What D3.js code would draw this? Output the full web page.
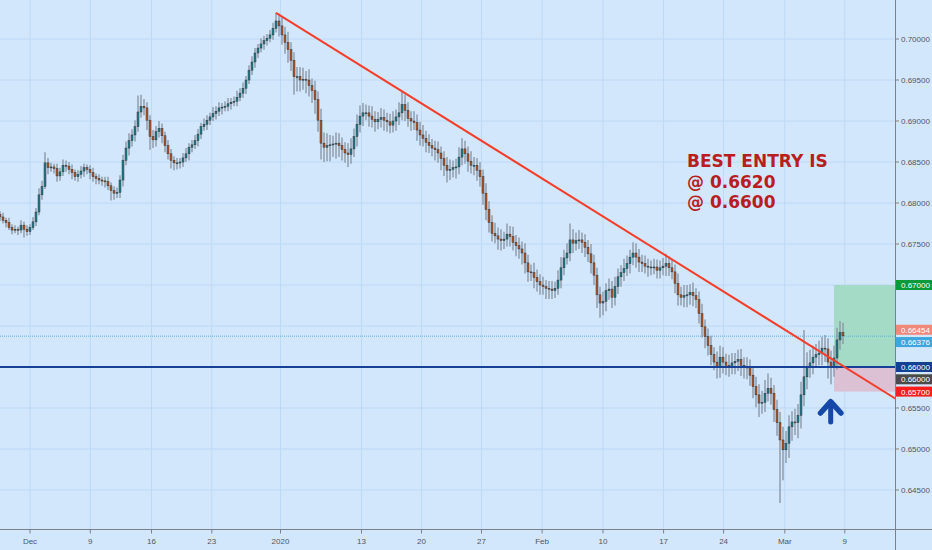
<!DOCTYPE html>
<html>
<head>
<meta charset="utf-8">
<script src="https://cdn.jsdelivr.net/npm/d3@7"></script>
<style>
  html, body { margin: 0; padding: 0; background: #d3e7fc; }
  svg { display: block; }
  .axis-text { font-family: "Liberation Sans", Arial, sans-serif; font-size: 8px; fill: #4f5661; }
  .tag-text { font-family: "Liberation Sans", Arial, sans-serif; font-size: 8px; fill: #ffffff; }
  .note { font-family: "DejaVu Sans", Verdana, sans-serif; font-weight: bold; font-size: 17px; fill: #b81d1f; }
</style>
</head>
<body>
<svg id="chart" width="932" height="550"></svg>
<script>
// closes in pips (6783 -> 0.6783), one per candle
const closes = [
  6783,6779,6776,6770,6767,6768,6767,6773,6768,6765,
  6770,6777,6789,6810,6820,6849,6843,6844,6842,6833,
  6838,6846,6845,6841,6837,6832,6835,6839,6843,6841,
  6837,6832,6830,6828,6827,6826,6821,6815,6812,6813,
  6828,6852,6867,6876,6883,6893,6911,6918,6916,6901,
  6881,6877,6887,6891,6882,6870,6860,6852,6849,6849,
  6850,6855,6860,6868,6871,6876,6884,6893,6896,6901,
  6905,6909,6912,6916,6917,6918,6921,6923,6924,6929,
  6934,6940,6950,6962,6972,6983,6989,6994,6998,7001,
  7005,7013,7022,7016,7005,6996,6987,6974,6954,6954,
  6950,6951,6950,6943,6937,6926,6901,6873,6868,6870,
  6871,6872,6873,6870,6865,6861,6859,6866,6881,6896,
  6906,6910,6910,6906,6902,6899,6902,6904,6901,6899,
  6895,6900,6905,6910,6920,6913,6903,6900,6898,6889,
  6883,6879,6874,6870,6867,6865,6861,6854,6846,6840,
  6841,6843,6844,6856,6866,6860,6851,6846,6846,6840,
  6832,6812,6792,6776,6763,6760,6756,6754,6756,6762,
  6759,6752,6748,6744,6739,6727,6716,6715,6709,6704,
  6700,6698,6696,6695,6693,6696,6706,6721,6733,6739,
  6755,6751,6754,6755,6752,6746,6738,6727,6712,6688,
  6678,6680,6693,6695,6685,6698,6710,6715,6720,6726,
  6734,6739,6734,6728,6726,6723,6722,6722,6722,6718,
  6721,6723,6726,6721,6716,6702,6688,6685,6687,6688,
  6691,6687,6682,6665,6649,6637,6626,6615,6606,6600,
  6612,6606,6602,6601,6605,6607,6609,6602,6600,6600,
  6590,6576,6566,6556,6557,6568,6574,6568,6548,6532,
  6511,6499,6507,6527,6533,6532,6541,6566,6588,6600,
  6605,6612,6615,6617,6623,6622,6606,6601,6611,6633,
  6642,6638
];
const firstOpen = 6786;

// wick length above / below the body, in pips
const upWick = [
  4,5,3,6,4,5,3,6,4,5, 4,6,5,8,7,13,6,5,4,6,
  5,7,6,5,6,4,5,6,5,4, 5,6,4,5,4,5,6,4,5,6,
  6,7,8,9,7,8,20,14,9,7, 6,8,7,9,6,5,7,6,5,6,
  5,6,7,5,6,7,6,5,7,6, 5,8,6,7,5,6,7,5,6,8,
  6,7,5,6,7,6,5,7,6,5, 6,7,10,9,12,10,13,9,10,12,
  12,14,10,13,9,12,10,14,13,15, 12,10,13,12,10,9,12,13,10,12,
  13,12,10,9,12,10,9,12,10,9, 10,12,9,13,16,12,10,9,12,10,
  10,12,9,10,8,9,10,8,9,10, 12,9,10,12,13,10,9,12,10,9,
  10,9,12,10,9,13,10,12,9,13, 10,12,9,10,9,12,10,9,12,10,
  9,10,8,9,10,8,12,13,10,12, 20,13,10,12,9,10,9,12,10,9,
  10,12,9,13,10,12,10,9,12,10, 9,13,12,10,9,10,9,8,10,9,
  9,10,12,9,10,9,12,10,13,12, 10,12,9,10,12,9,10,12,9,13,
  14,12,10,13,12,10,12,13,10,12, 9,10,12,13,14,16,18,13,10,12,
  13,16,15,14,13,16,14,16,57,18, 16,14,13,15,14,16,13,14,15,15,
  14,12
];
const dnWick = [
  5,4,6,3,5,4,6,4,10,5, 4,3,5,4,6,3,8,5,6,7,
  6,5,7,6,8,5,6,5,7,6, 8,6,7,5,6,7,5,12,8,6,
  7,8,6,9,7,8,6,7,9,12, 16,10,8,7,9,8,7,10,9,8,
  7,6,5,8,6,5,7,6,5,7, 6,5,7,6,8,5,6,7,5,6,
  5,6,7,5,6,7,6,5,7,6, 5,6,5,13,12,14,16,13,22,18,
  14,12,16,13,15,17,14,20,18,17, 19,15,18,14,13,12,15,11,10,12,
  10,12,9,13,10,12,9,10,13,12, 10,9,12,10,9,13,10,12,9,13,
  13,10,12,9,10,13,12,14,13,15, 12,10,13,9,10,12,13,10,12,13,
  12,14,13,12,10,9,13,12,10,9, 12,10,13,12,14,13,12,10,13,12,
  12,10,13,12,10,9,8,10,9,8, 10,12,9,10,13,12,10,13,12,16,
  18,15,12,11,13,10,9,12,10,9, 12,10,13,12,10,9,12,10,9,10,
  10,9,12,10,9,12,13,10,12,14, 12,13,10,12,13,14,12,13,10,14,
  13,14,12,13,10,14,12,13,14,15, 13,14,15,17,13,12,10,14,15,16,
  77,37,16,18,17,15,19,16,14,15, 13,14,12,13,15,16,20,22,13,14,
  12,10
];

const dateLabels = ["Dec", "9", "16", "23", "2020", "13", "20", "27", "Feb", "10", "17", "24", "Mar", "9"];
const dateIndex = [10, 30.1, 50.5, 70.6, 93.5, 120.5, 140.5, 160.5, 180.7, 201, 221.2, 241.2, 261.6, 281.6];
const priceTicks = [0.700, 0.695, 0.690, 0.685, 0.680, 0.675, 0.670, 0.665, 0.660, 0.655, 0.650, 0.645];

const trendLine = [[92, 0.7032], [300, 0.6558]];
const supportLevel = 0.66;
const lastPrice = 0.66376;
const positionStart = 278;
const positionLevels = { target: 0.670, entry: 0.660, stop: 0.657 };

const noteLines = ["BEST ENTRY IS", "@ 0.6620", "@ 0.6600"];
const noteAt = [229, 0.68439];
const arrowAt = { i: 276.9, top: 0.65577, wing: 0.65439, bottom: 0.65329, half: 3.4 };

const priceTags = [
  { value: 0.67000, color: "#0a9a3c" },
  { value: 0.66454, color: "#f0897a" },
  { value: 0.66376, color: "#3ea5de" },
  { value: 0.66000, color: "#153f94" },
  { value: 0.66000, color: "#4a4a4a" },
  { value: 0.65700, color: "#ff1d1d" }
];

const width = 932, height = 550;
const plotW = 895, plotH = 529.5;

const svg = d3.select("#chart");
const x = d3.scaleLinear().domain([0, plotW / 3]).range([0, plotW]);
const y = d3.scaleLinear().domain([0.64018, 0.70476]).range([plotH, 0]);

svg.append("rect")
  .attr("width", width)
  .attr("height", height)
  .attr("fill", "#d3e7fc");

svg.append("defs").append("clipPath")
  .attr("id", "plot-clip")
  .append("rect")
  .attr("width", plotW)
  .attr("height", plotH);

const plot = svg.append("g").attr("clip-path", "url(#plot-clip)");

// grid
plot.selectAll("line.hgrid")
  .data(priceTicks)
  .join("line")
  .attr("class", "hgrid")
  .attr("x1", 0).attr("x2", plotW)
  .attr("y1", d => y(d)).attr("y2", d => y(d))
  .attr("stroke", "#bcd9f6")
  .attr("stroke-width", 1);

plot.selectAll("line.vgrid")
  .data(dateIndex)
  .join("line")
  .attr("class", "vgrid")
  .attr("x1", d => x(d)).attr("x2", d => x(d))
  .attr("y1", 0).attr("y2", plotH)
  .attr("stroke", "#bcd9f6")
  .attr("stroke-width", 1);

// long position box
plot.append("rect")
  .attr("x", x(positionStart))
  .attr("y", y(positionLevels.target))
  .attr("width", plotW - x(positionStart))
  .attr("height", y(positionLevels.entry) - y(positionLevels.target))
  .attr("fill", "#a4dbc6");

plot.append("rect")
  .attr("x", x(positionStart))
  .attr("y", y(positionLevels.entry))
  .attr("width", plotW - x(positionStart))
  .attr("height", y(positionLevels.stop) - y(positionLevels.entry))
  .attr("fill", "#dcc0d3");

// last price line
plot.append("line")
  .attr("x1", 0).attr("x2", plotW)
  .attr("y1", y(lastPrice)).attr("y2", y(lastPrice))
  .attr("stroke", "#5aaee6")
  .attr("stroke-width", 1)
  .attr("stroke-dasharray", "1,1");

// candles
const candles = closes.map((c, i) => {
  const o = i === 0 ? firstOpen : closes[i - 1];
  return {
    i: i,
    open: o / 1e4,
    close: c / 1e4,
    high: (Math.max(o, c) + upWick[i]) / 1e4,
    low: (Math.min(o, c) - dnWick[i]) / 1e4
  };
});

const candle = plot.selectAll("g.candle")
  .data(candles)
  .join("g")
  .attr("class", "candle");

candle.append("line")
  .attr("x1", d => x(d.i)).attr("x2", d => x(d.i))
  .attr("y1", d => y(d.high)).attr("y2", d => y(d.low))
  .attr("stroke", "#8896a4")
  .attr("stroke-opacity", 0.9)
  .attr("stroke-width", 1.5);

candle.append("rect")
  .attr("x", d => x(d.i) - 1)
  .attr("width", 2)
  .attr("y", d => y(Math.max(d.open, d.close)))
  .attr("height", d => Math.max(1, Math.abs(y(d.open) - y(d.close))))
  .attr("fill", d => d.close >= d.open ? "#23808f" : "#b2592c")
  .attr("stroke", "#2b2b2b")
  .attr("stroke-width", 0.45);

// support line
plot.append("line")
  .attr("x1", 0).attr("x2", plotW)
  .attr("y1", y(supportLevel)).attr("y2", y(supportLevel))
  .attr("stroke", "#163f96")
  .attr("stroke-width", 2);

// trend line
plot.append("line")
  .attr("x1", x(trendLine[0][0])).attr("y1", y(trendLine[0][1]))
  .attr("x2", x(trendLine[1][0])).attr("y2", y(trendLine[1][1]))
  .attr("stroke", "#f43e2c")
  .attr("stroke-width", 2);

// arrow
const arrow = plot.append("g")
  .attr("stroke", "#1548a8")
  .attr("fill", "none")
  .attr("stroke-linecap", "round")
  .attr("stroke-linejoin", "round");

arrow.append("line")
  .attr("x1", x(arrowAt.i)).attr("x2", x(arrowAt.i))
  .attr("y1", y(arrowAt.top) + 2).attr("y2", y(arrowAt.bottom))
  .attr("stroke-width", 5);

arrow.append("path")
  .attr("d", d3.line()([
    [x(arrowAt.i - arrowAt.half), y(arrowAt.wing)],
    [x(arrowAt.i), y(arrowAt.top)],
    [x(arrowAt.i + arrowAt.half), y(arrowAt.wing)]
  ]))
  .attr("stroke-width", 5.5);

// note
svg.append("text")
  .attr("class", "note")
  .attr("x", x(noteAt[0]))
  .attr("y", y(noteAt[1]))
  .selectAll("tspan")
  .data(noteLines)
  .join("tspan")
  .attr("x", x(noteAt[0]))
  .attr("dy", (d, k) => k === 0 ? 0 : 20.5)
  .text(d => d);

// axes
svg.append("line")
  .attr("x1", 0).attr("x2", width)
  .attr("y1", plotH).attr("y2", plotH)
  .attr("stroke", "#7c828b")
  .attr("stroke-width", 1);

svg.append("line")
  .attr("x1", plotW + 0.5).attr("x2", plotW + 0.5)
  .attr("y1", 0).attr("y2", height)
  .attr("stroke", "#7c828b")
  .attr("stroke-width", 1);

const dateAxis = svg.append("g");
dateAxis.selectAll("line")
  .data(dateIndex)
  .join("line")
  .attr("x1", d => x(d)).attr("x2", d => x(d))
  .attr("y1", plotH).attr("y2", plotH + 4)
  .attr("stroke", "#7c828b");

dateAxis.selectAll("text")
  .data(dateLabels)
  .join("text")
  .attr("class", "axis-text")
  .attr("x", (d, k) => x(dateIndex[k]))
  .attr("y", 544)
  .attr("text-anchor", "middle")
  .text(d => d);

// price tags, pushed apart so they do not overlap
let lastY = -Infinity;
const tagRows = priceTags.map(t => {
  const ty = Math.max(y(t.value), lastY + 12.3);
  lastY = ty;
  return { ...t, ty: ty };
});

const priceAxis = svg.append("g");
priceAxis.selectAll("line")
  .data(priceTicks)
  .join("line")
  .attr("x1", plotW).attr("x2", plotW + 4)
  .attr("y1", d => y(d)).attr("y2", d => y(d))
  .attr("stroke", "#7c828b");

// tick labels hidden behind a tag are skipped
priceAxis.selectAll("text")
  .data(priceTicks.filter(p => !tagRows.some(t => Math.abs(t.ty - y(p)) < 9)))
  .join("text")
  .attr("class", "axis-text")
  .attr("x", plotW + 6)
  .attr("y", d => y(d) + 3)
  .text(d => d3.format(".5f")(d));

const tags = svg.append("g").selectAll("g")
  .data(tagRows)
  .join("g")
  .attr("transform", d => `translate(${plotW + 1},${d.ty})`);

tags.append("rect")
  .attr("x", 0).attr("y", -5)
  .attr("width", width - plotW)
  .attr("height", 10)
  .attr("fill", d => d.color);

tags.append("text")
  .attr("class", "tag-text")
  .attr("x", 5)
  .attr("y", 3)
  .text(d => d3.format(".5f")(d.value));
</script>
</body>
</html>
